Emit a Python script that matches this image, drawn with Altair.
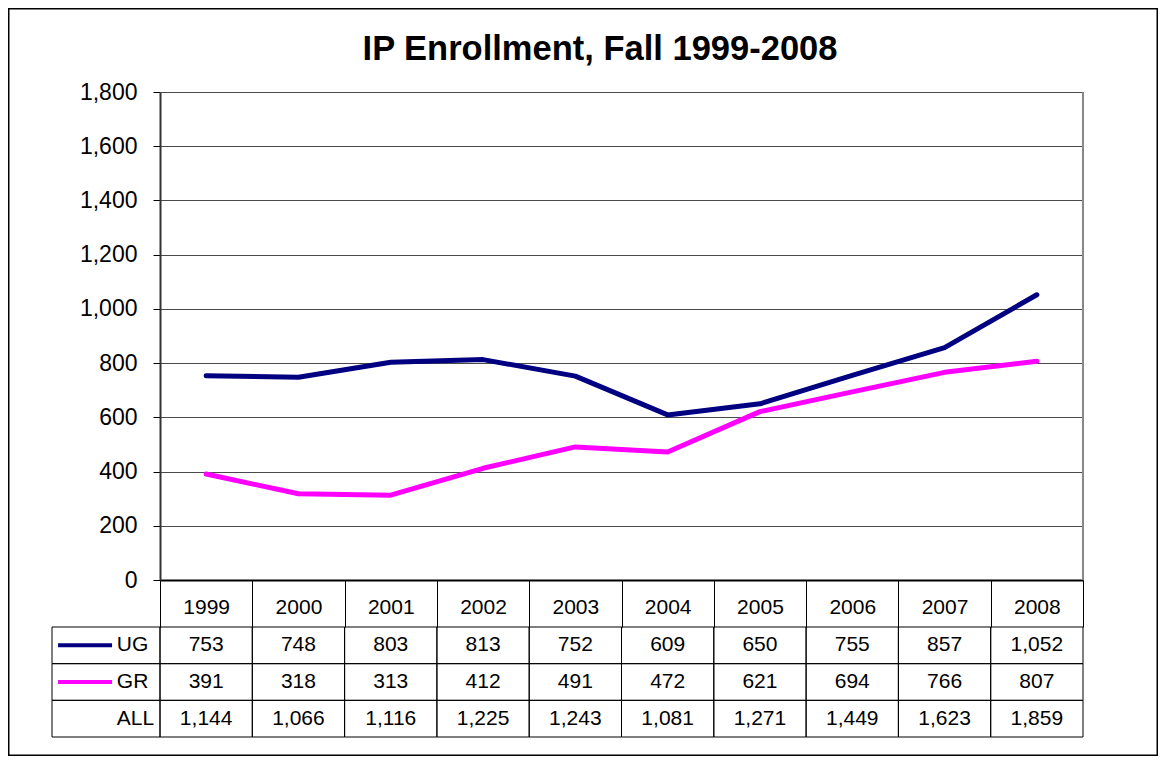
import altair as alt
import pandas as pd

# ---------------- data ----------------
years = ["1999", "2000", "2001", "2002", "2003", "2004", "2005", "2006", "2007", "2008"]
ug = [753, 748, 803, 813, 752, 609, 650, 755, 857, 1052]
gr = [391, 318, 313, 412, 491, 472, 621, 694, 766, 807]
all_students = [1144, 1066, 1116, 1225, 1243, 1081, 1271, 1449, 1623, 1859]
series_names = ["UG", "GR"]
row_names = ["UG", "GR", "ALL"]
y_ticks = [0, 200, 400, 600, 800, 1000, 1200, 1400, 1600, 1800]
title_text = "IP Enrollment, Fall 1999-2008"

# ---------------- layout / style ----------------
W, H = 1150, 748
PLOT_X = [152, 1075]
PLOT_Y = [572, 84]
TABLE_Y = [619, 729]
LABEL_X = [44, 152]
FONT = "Arial"
series_colors = ["#000080", "#FF00FF"]

lines_df = pd.DataFrame({
    "year": years * 2,
    "series": ["UG"] * len(years) + ["GR"] * len(years),
    "value": ug + gr,
})
table_df = pd.DataFrame({
    "year": years * 3,
    "row": ["UG"] * len(years) + ["GR"] * len(years) + ["ALL"] * len(years),
    "value": ug + gr + all_students,
})
border_df = pd.DataFrame({"year": [years[-1]], "value": [y_ticks[0]], "value2": [y_ticks[-1]]})
rows_df = pd.DataFrame({"row": row_names})
sym_df = pd.DataFrame({"row": series_names})

x_scale = alt.Scale(type="band", domain=years, range=PLOT_X, paddingInner=0, paddingOuter=0)
y_scale = alt.Scale(domain=[y_ticks[0], y_ticks[-1]], range=PLOT_Y, nice=False)
row_scale = alt.Scale(type="band", domain=row_names, range=TABLE_Y, paddingInner=0, paddingOuter=0)
lbl_scale = alt.Scale(domain=[0, 1], range=LABEL_X, nice=False, zero=False)
color_scale = alt.Scale(domain=series_names, range=series_colors)

x_axis = alt.Axis(
    title=None, orient="bottom", offset=PLOT_Y[0] - H,
    labelFontSize=21, labelFont=FONT, labelColor="black", labelAngle=0,
    labelPadding=-31, tickBand="extent", tickSize=47, tickColor="black",
    tickWidth=1, domainColor="black", domainWidth=2, grid=False,
)
y_axis = alt.Axis(
    title=None, orient="left", offset=-PLOT_X[0], values=y_ticks, format=",d",
    labelFontSize=23, labelFont=FONT, labelColor="black", labelPadding=16,
    tickSize=7, tickColor="black", tickWidth=1, domainColor="#333333",
    domainWidth=2, grid=True, gridColor="#4a4a4a", gridWidth=1,
)

lines = alt.Chart(lines_df).mark_line(strokeWidth=5, strokeCap="round", strokeJoin="round").encode(
    x=alt.X("year:O", scale=x_scale, axis=x_axis, bandPosition=0.5),
    y=alt.Y("value:Q", scale=y_scale, axis=y_axis),
    color=alt.Color("series:N", scale=color_scale, legend=None),
    detail="series:N",
)
border = alt.Chart(border_df).mark_rule(color="#888888", strokeWidth=2).encode(
    x=alt.X("year:O", scale=x_scale, axis=x_axis, bandPosition=1),
    y=alt.Y("value:Q", scale=y_scale, axis=y_axis),
    y2="value2:Q",
)
plot = alt.layer(border, lines)

cells = alt.Chart(table_df).mark_rect(fill="transparent", stroke="black", strokeWidth=1).encode(
    x=alt.X("year:O", scale=x_scale, axis=None),
    y=alt.Y("row:N", scale=row_scale, axis=None),
)
cell_text = alt.Chart(table_df).mark_text(fontSize=21, font=FONT, color="black", baseline="middle", align="center").encode(
    x=alt.X("year:O", scale=x_scale, axis=None, bandPosition=0.5),
    y=alt.Y("row:N", scale=row_scale, axis=None, bandPosition=0.5),
    text=alt.Text("value:Q", format=",d"),
)
table = alt.layer(cells, cell_text)

lab_cells = alt.Chart(rows_df).mark_rect(fill="transparent", stroke="black", strokeWidth=1).encode(
    x=alt.X(datum=0, type="quantitative", scale=lbl_scale, axis=None),
    x2=alt.X2(datum=1),
    y=alt.Y("row:N", scale=row_scale, axis=None),
)
lab_sym = alt.Chart(sym_df).mark_rule(strokeWidth=4).encode(
    x=alt.X(datum=0.056, type="quantitative", scale=lbl_scale, axis=None),
    x2=alt.X2(datum=0.556),
    y=alt.Y("row:N", scale=row_scale, axis=None, bandPosition=0.5),
    color=alt.Color("row:N", scale=color_scale, legend=None),
)
lab_text = alt.Chart(rows_df).mark_text(fontSize=21, font=FONT, color="black", baseline="middle", align="left").encode(
    x=alt.X(datum=0.6, type="quantitative", scale=lbl_scale, axis=None),
    y=alt.Y("row:N", scale=row_scale, axis=None, bandPosition=0.5),
    text="row:N",
)
labels = alt.layer(lab_cells, lab_sym, lab_text)

chart = alt.layer(plot, table, labels).resolve_scale(
    x="independent", y="independent"
).properties(
    width=W, height=H,
    autosize=alt.AutoSizeParams(type="none"),
    padding=0,
    title=alt.Title(
        title_text, fontSize=34.5, font=FONT, fontWeight="bold", color="black",
        anchor="middle", frame="group", offset=-51, dy=35, baseline="alphabetic", dx=17,
    ),
).configure(
    background="white",
    view=alt.ViewConfig(stroke="black", strokeWidth=3),
)

chart.save("out.html", embed_options={"renderer": "svg", "actions": False})
